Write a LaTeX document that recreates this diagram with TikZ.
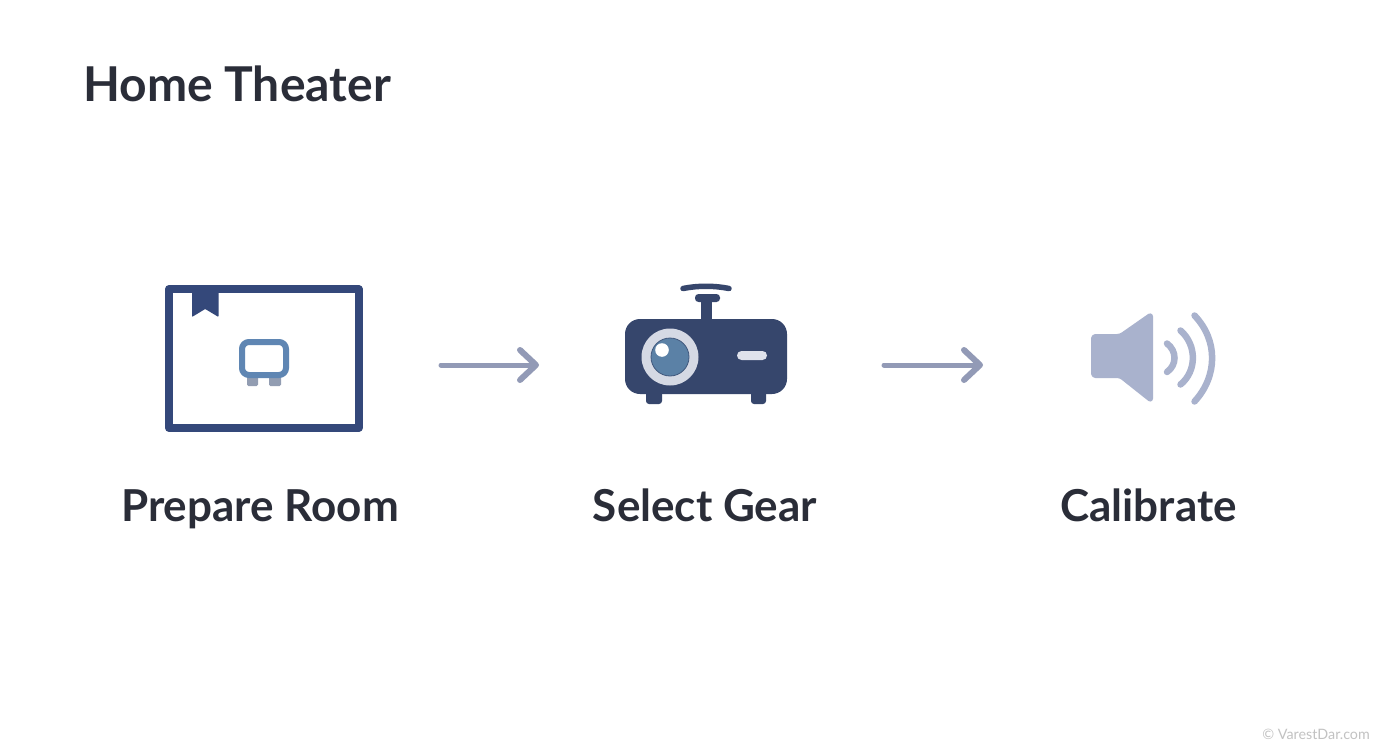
\documentclass[tikz,border=0pt]{standalone}
\usepackage{fontspec}
\setmainfont{Lato}
\usetikzlibrary{arrows.meta}
\definecolor{navy}{HTML}{34487A}
\definecolor{proj}{HTML}{36466C}
\definecolor{mon}{HTML}{5F86B3}
\definecolor{foot}{HTML}{929DB2}
\definecolor{ring}{HTML}{D5D9E4}
\definecolor{lens}{HTML}{5B81A6}
\definecolor{slot}{HTML}{DFE2EC}
\definecolor{spk}{HTML}{A9B2CD}
\definecolor{arr}{HTML}{929AB6}
\definecolor{ink}{HTML}{2A2D38}
\tikzset{
  title/.style={font=\fontsize{48}{54}\selectfont\bfseries, text=ink, anchor=base west, inner sep=0pt},
  steplabel/.style={font=\fontsize{44}{50}\selectfont\bfseries, text=ink, anchor=base, inner sep=0pt},
  flow/.style={draw=arr, line width=5pt, line cap=round, line join=round,
    -{Straight Barb[length=16pt,width=30pt,line width=6pt,round]}},
  wave/.style={draw=spk, line width=6.5pt, line cap=round},
  wmark/.style={font=\fontsize{14.3}{16}\selectfont, text=black!24, anchor=base east, inner sep=0pt}
}
\begin{document}
\begin{tikzpicture}[x=1pt,y=-1pt]
\useasboundingbox (0,0) rectangle (1392,752);
\fill[white] (0,0) rectangle (1392,752);

\node[title] (head) at (83,101) {Home Theater};

% room icon
\draw[navy, line width=8pt, line join=round] (169,289) rectangle (358.5,428);
\fill[navy, rounded corners=0.8pt] (192,288) -- (218.5,288) -- (218.5,317) -- (205.2,309) -- (192,317) -- cycle;
\fill[foot, rounded corners=1.5pt] (247,372) rectangle (258,386);
\fill[foot, rounded corners=1.5pt] (269,372) rectangle (281,386);
\draw[mon, line width=6pt, rounded corners=7pt, fill=white] (242,342) rectangle (286,375);

% projector icon
\draw[proj, line width=5.5pt, line cap=round] (683,288.5) .. controls (698,285.5) and (714,285.5) .. (729,288.5);
\fill[proj, rounded corners=3.5pt] (695,294) rectangle (720,302);
\fill[proj] (701,298) rectangle (712,321);
\fill[proj, rounded corners=3pt] (646,385) rectangle (662,404);
\fill[proj, rounded corners=3pt] (751,385) rectangle (766,404);
\fill[proj, rounded corners=15pt] (625,319) rectangle (787,394);
\fill[ring] (670,357) circle (28.5pt);
\fill[lens, draw=proj!70!lens, line width=0.8pt] (670,357) circle (19pt);
\fill[white] (662,350) circle (6.8pt);
\fill[slot, rounded corners=4.5pt] (737,351) rectangle (767,360);

% speaker icon
\fill[spk, draw=spk, line width=3pt, line join=round, rounded corners=3pt]
  (1092.5,335.5) -- (1120,335.5) -- (1151.5,313.5) -- (1151.5,401.5) -- (1120,376.5) -- (1092.5,376.5) -- cycle;
\draw[wave] (1167,343.5) .. controls (1177,351) and (1177,365) .. (1167,372);
\draw[wave] (1180.5,330.5) .. controls (1197,345) and (1197,371) .. (1180.5,384.5);
\draw[wave] (1194.5,315.5) .. controls (1218,340) and (1218,376) .. (1194.5,401.5);

% labels
\node[steplabel] (room) at (260,521) {Prepare Room};
\node[steplabel] (gear) at (705,521) {Select Gear};
\node[steplabel] (cal) at (1148.5,521) {Calibrate};

% connectors
\coordinate (a1) at (441,365); \coordinate (a2) at (539,365);
\coordinate (b1) at (884,365); \coordinate (b2) at (983,365);
\draw[flow] (a1) -- (a2);
\draw[flow] (b1) -- (b2);

\node[wmark] (wm) at (1370,739) {© VarestDar.com};
\end{tikzpicture}
\end{document}
